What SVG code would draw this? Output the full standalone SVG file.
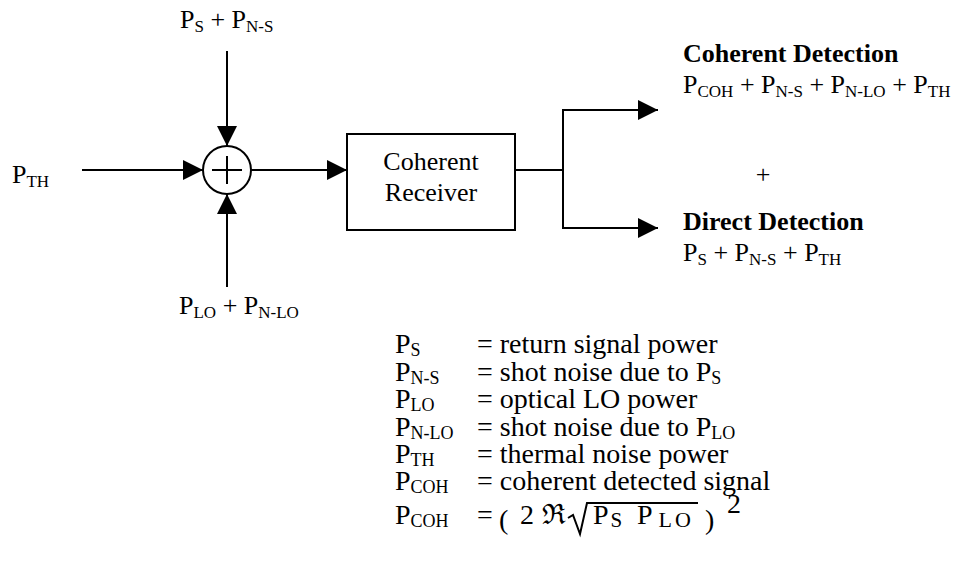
<svg xmlns="http://www.w3.org/2000/svg" width="961" height="567" viewBox="0 0 961 567">
<style>
.t{font-family:"Liberation Serif","Times New Roman",serif;font-size:26px;fill:#000}
.b{font-weight:bold}
.s{font-size:17px}
.l{font-family:"Liberation Serif","Times New Roman",serif;font-size:28px;fill:#000}
.ls{font-size:18px}
.ln{fill:none;stroke:#000;stroke-width:2}
</style>
<defs>
<marker id="ah" markerUnits="userSpaceOnUse" markerWidth="20" markerHeight="20" refX="20" refY="10" orient="auto">
<path d="M0,0 L20,10 L0,20 z" fill="#000"/>
</marker>
</defs>
<rect width="961" height="567" fill="#fff"/>

<g id="connectors">
<line class="ln" x1="227" y1="51" x2="227" y2="146" marker-end="url(#ah)"/>
<line class="ln" x1="82" y1="170" x2="203" y2="170" marker-end="url(#ah)"/>
<line class="ln" x1="227" y1="287" x2="227" y2="194" marker-end="url(#ah)"/>
<line class="ln" x1="251" y1="170" x2="347" y2="170" marker-end="url(#ah)"/>
<line class="ln" x1="515" y1="170" x2="563" y2="170"/>
<line class="ln" x1="563" y1="109" x2="563" y2="229"/>
<line class="ln" x1="562" y1="110" x2="658" y2="110" marker-end="url(#ah)"/>
<line class="ln" x1="562" y1="228" x2="658" y2="228" marker-end="url(#ah)"/>
</g>

<g id="in-signal">
<text class="t" x="180" y="28">P<tspan class="s" dy="4">S</tspan><tspan dy="-4"> + P</tspan><tspan class="s" dy="4">N-S</tspan></text>
</g>
<g id="in-thermal">
<text class="t" x="12" y="183">P<tspan class="s" dy="4">TH</tspan></text>
</g>
<g id="in-lo">
<text class="t" x="179" y="314">P<tspan class="s" dy="4">LO</tspan><tspan dy="-4"> + P</tspan><tspan class="s" dy="4">N-LO</tspan></text>
</g>

<g id="summer">
<circle class="ln" cx="227" cy="170" r="24"/>
<line class="ln" x1="212" y1="170" x2="242" y2="170"/>
<line class="ln" x1="227" y1="156" x2="227" y2="184"/>
</g>

<g id="receiver">
<rect class="ln" x="347" y="134" width="168" height="96"/>
<text class="t" x="431" y="170" text-anchor="middle">Coherent</text>
<text class="t" x="431" y="201" text-anchor="middle">Receiver</text>
</g>

<g id="coherent-detection">
<text class="t b" x="683" y="62">Coherent Detection</text>
<text class="t" x="683" y="93">P<tspan class="s" dy="4">COH</tspan><tspan dy="-4"> + P</tspan><tspan class="s" dy="4">N-S</tspan><tspan dy="-4"> + P</tspan><tspan class="s" dy="4">N-LO</tspan><tspan dy="-4"> + P</tspan><tspan class="s" dy="4">TH</tspan></text>
</g>
<g id="plus-label">
<text class="t" x="763" y="183" text-anchor="middle">+</text>
</g>
<g id="direct-detection">
<text class="t b" x="683" y="230">Direct Detection</text>
<text class="t" x="683" y="261">P<tspan class="s" dy="4">S</tspan><tspan dy="-4"> + P</tspan><tspan class="s" dy="4">N-S</tspan><tspan dy="-4"> + P</tspan><tspan class="s" dy="4">TH</tspan></text>
</g>

<g id="legend">
<text class="l" x="395" y="353">P<tspan class="ls" dy="3">S</tspan></text>
<text class="l" x="477" y="353">= return signal power</text>
<text class="l" x="395" y="381">P<tspan class="ls" dy="3">N-S</tspan></text>
<text class="l" x="477" y="381">= shot noise due to P<tspan class="ls" dy="3">S</tspan></text>
<text class="l" x="395" y="408">P<tspan class="ls" dy="3">LO</tspan></text>
<text class="l" x="477" y="408">= optical LO power</text>
<text class="l" x="395" y="436">P<tspan class="ls" dy="3">N-LO</tspan></text>
<text class="l" x="477" y="436">= shot noise due to P<tspan class="ls" dy="3">LO</tspan></text>
<text class="l" x="395" y="463">P<tspan class="ls" dy="3">TH</tspan></text>
<text class="l" x="477" y="463">= thermal noise power</text>
<text class="l" x="395" y="490">P<tspan class="ls" dy="3">COH</tspan></text>
<text class="l" x="477" y="490">= coherent detected signal</text>
<text class="l" x="395" y="524">P<tspan class="ls" dy="3">COH</tspan></text>
<text class="l" x="477" y="524">=</text>
<text class="l" x="499" y="529" font-size="44">(</text>
<text class="l" x="520" y="524">2</text>
<text class="l" x="542" y="524" font-family="DejaVu Serif, serif" font-size="24">ℜ</text>
<polyline class="ln" points="568,518 573,515 580,534 587,503 698,503" stroke-width="1.5"/>
<text class="l" x="593" y="524">P<tspan font-size="21" dx="2" dy="3">S</tspan></text>
<text class="l" x="637" y="524">P<tspan font-size="22" dx="6" dy="3" letter-spacing="3">LO</tspan></text>
<text class="l" x="705" y="529" font-size="44">)</text>
<text class="l" x="727" y="513" font-size="17">2</text>
</g>
</svg>
